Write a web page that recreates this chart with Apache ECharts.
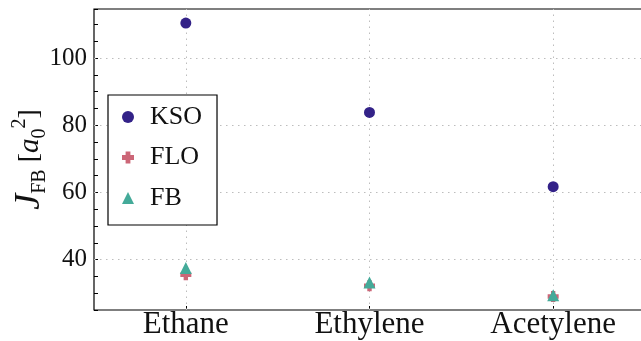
<!DOCTYPE html>
<html>
<head>
<meta charset="utf-8">
<script src="https://cdn.jsdelivr.net/npm/echarts@6/dist/echarts.min.js"></script>
<style>html,body{margin:0;padding:0;background:#fff;}#c{width:641px;height:341px;}</style>
</head>
<body>
<div id="c"></div>
<script>
const categories = ['Ethane', 'Ethylene', 'Acetylene'];
const ksoValues = [110.4, 83.8, 61.7];
const floValues = [35.5, 32.2, 29.0];
const fbValues = [37.5, 33.2, 29.4];
const yTickLabels = [40, 60, 80, 100];
const seriesNames = ['KSO', 'FLO', 'FB'];

const FONT = 'Liberation Serif';
const plusPath = 'path://M3,0 L7,0 L7,3 L10,3 L10,7 L7,7 L7,10 L3,10 L3,7 L0,7 L0,3 L3,3 Z';
const gridLine = { color: '#bdbdbd', width: 1, type: [1.5, 4.5] };

const chart = echarts.init(document.getElementById('c'), null, { renderer: 'canvas' });
chart.setOption({
  animation: false,
  backgroundColor: '#fff',
  grid: { left: 94, top: 9, width: 551, height: 301, containLabel: false, outerBoundsMode: 'none', show: true, borderColor: '#000', borderWidth: 1.2, backgroundColor: 'transparent' },
  legend: {
    orient: 'vertical', left: 108, top: 95,
    padding: [9, 15, 14, 14],
    itemGap: 14.5, itemWidth: 12, itemHeight: 12,
    borderColor: '#000', borderWidth: 1.2, borderRadius: 0,
    backgroundColor: '#fff',
    textStyle: { fontFamily: FONT, fontSize: 26, lineHeight: 26, color: '#111', padding: [0, 0, 0, 11] },
    data: [
      { name: seriesNames[0], icon: 'circle' },
      { name: seriesNames[1], icon: plusPath },
      { name: seriesNames[2], icon: 'triangle' }
    ]
  },
  xAxis: {
    type: 'category', data: categories, boundaryGap: true,
    axisLine: { show: false },
    axisTick: { show: true, inside: true, alignWithLabel: true, length: 4, lineStyle: { color: '#000', width: 1 } },
    axisLabel: { fontFamily: FONT, fontSize: 31, color: '#111', margin: -1 },
    splitLine: { show: false }
  },
  yAxis: {
    type: 'value', min: 25, max: 114.6, interval: 5,
    axisLine: { show: false },
    axisTick: { show: true, inside: true, length: 4, lineStyle: { color: '#000', width: 1 } },
    axisLabel: {
      fontFamily: FONT, fontSize: 25, color: '#111', margin: 7,
      formatter: v => yTickLabels.indexOf(v) >= 0 ? String(v) : ''
    },
    splitLine: { show: false },
    name: '{j|J}{s|FB}{m| [}{a|a}{s|0}{p|2}{m|]}',
    nameLocation: 'middle', nameRotate: 90, nameGap: 44, nameMoveOverlap: false,
    nameTextStyle: {
      fontFamily: FONT, fontSize: 28, color: '#111', lineHeight: 40,
      rich: {
        j: { fontFamily: FONT, fontSize: 36, fontStyle: 'italic', lineHeight: 40, color: '#111' },
        s: { fontFamily: FONT, fontSize: 20, lineHeight: 24, verticalAlign: 'bottom', color: '#111' },
        m: { fontFamily: FONT, fontSize: 28, lineHeight: 40, color: '#111' },
        a: { fontFamily: FONT, fontSize: 29, fontStyle: 'italic', lineHeight: 40, color: '#111' },
        p: { fontFamily: FONT, fontSize: 20, lineHeight: 20, verticalAlign: 'top', color: '#111' }
      }
    }
  },
  series: [
    {
      type: 'scatter', name: '_grid', data: [], silent: true,
      markLine: {
        silent: true, symbol: 'none', z: 1, animation: false,
        label: { show: false },
        lineStyle: gridLine,
        data: categories.map(c => ({ xAxis: c })).concat(yTickLabels.map(v => ({ yAxis: v })))
      }
    },
    { type: 'scatter', name: seriesNames[0], data: ksoValues, symbol: 'circle', symbolSize: 11, itemStyle: { color: '#332288', opacity: 1 }, z: 3 },
    { type: 'scatter', name: seriesNames[1], data: floValues, symbol: plusPath, symbolSize: 11, itemStyle: { color: '#CC6677', opacity: 1 }, z: 4 },
    { type: 'scatter', name: seriesNames[2], data: fbValues, symbol: 'triangle', symbolSize: 12, itemStyle: { color: '#44AA99', opacity: 1 }, z: 5 }
  ]
});
</script>
</body>
</html>
